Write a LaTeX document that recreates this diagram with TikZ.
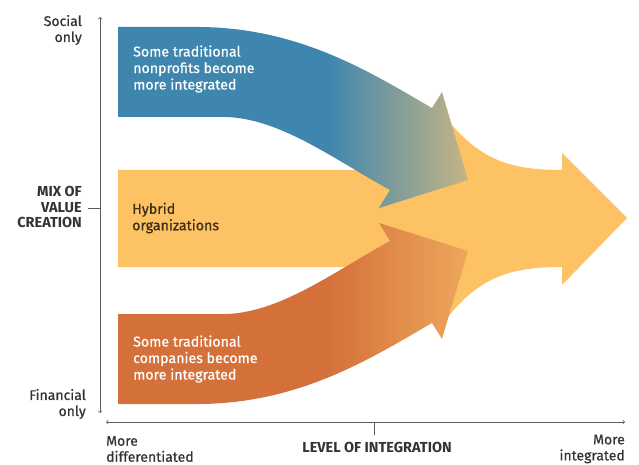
\documentclass[tikz,border=0pt]{standalone}
\usepackage{fontspec}
\setmainfont{Fira Sans}
\newfontfamily\medfont{Fira Sans}[FakeBold=0.6]
\definecolor{blueArrow}{HTML}{3F86AE}
\definecolor{blueTip}{HTML}{CDB782}
\definecolor{orangeArrow}{HTML}{D4713B}
\definecolor{orangeTip}{HTML}{EFAA5E}
\definecolor{hybridYellow}{HTML}{FCC264}
\definecolor{axisGray}{HTML}{5C5C5C}
\definecolor{labelGray}{HTML}{333333}
\definecolor{hybridText}{HTML}{3A2C16}
\pgfdeclarehorizontalshading{blueshade}{100bp}{color(0bp)=(blueArrow); color(55bp)=(blueArrow); color(76bp)=(blueTip); color(100bp)=(blueTip)}
\pgfdeclarehorizontalshading{orangeshade}{100bp}{color(0bp)=(orangeArrow); color(55bp)=(orangeArrow); color(76bp)=(orangeTip); color(100bp)=(orangeTip)}
\tikzset{
  axisline/.style={draw=axisGray, line width=0.7pt},
  boxtext/.style={anchor=west, align=left, inner sep=0pt, font=\medfont\fontsize{14.2}{16.5}\selectfont},
  sidelabel/.style={labelGray, align=right, inner sep=0pt, font=\medfont\fontsize{14}{16}\selectfont},
  axistitle/.style={labelGray, inner sep=0pt, font=\bfseries\fontsize{14.5}{15.5}\selectfont},
}
\begin{document}
\begin{tikzpicture}[x=1pt,y=-1pt]
  \useasboundingbox (0,0) rectangle (639,465);
  % hybrid arrow
  \fill[hybridYellow] (118,170) -- (420,170) -- (447,119)
    .. controls (480,160) and (510,170) .. (562,170) -- (562,153) -- (627,218)
    -- (562,285) -- (562,267) .. controls (510,267) and (480,277) .. (447,318)
    -- (420,267) -- (118,267) -- cycle;
  % nonprofits arrow
  \shade[shading=blueshade] (118,27) -- (200,27) .. controls (300,28) and (370,72) .. (432,108)
    -- (442,92) -- (468,180) -- (379,208) -- (390,190)
    .. controls (335,160) and (280,118) .. (225,117) -- (118,117) -- cycle;
  % companies arrow
  \shade[shading=orangeshade] (118,404) -- (200,404) .. controls (300,403) and (370,359) .. (432,323)
    -- (442,339) -- (468,251) -- (379,223) -- (390,241)
    .. controls (335,271) and (280,313) .. (225,314) -- (118,314) -- cycle;
  \node[boxtext, white] (nonprofits) at (133,69) {Some traditional\\nonprofits become\\more integrated};
  \node[boxtext, hybridText] (hybrid) at (132,218) {Hybrid\\organizations};
  \node[boxtext, white] (companies) at (133,359) {Some traditional\\companies become\\more integrated};
  % axes
  \coordinate (ytop) at (100,17);
  \coordinate (ybot) at (100,413);
  \coordinate (xleft) at (106,422);
  \coordinate (xright) at (625,422);
  \coordinate (ytick) at (88,208);
  \coordinate (xtick) at (374,435);
  \draw[axisline, <->] (ytop) -- (ybot);
  \draw[axisline, <->] (xleft) -- (xright);
  \draw[axisline] (ytick) -- (ytick -| ytop);
  \draw[axisline] (xtick) -- (xtick |- xleft);
  \node[sidelabel, anchor=east] (social) at (82,30) {Social\\only};
  \node[axistitle, anchor=east, align=right] (mix) at (82,207) {MIX OF\\VALUE\\CREATION};
  \node[sidelabel, anchor=east] (financial) at (86,404) {Financial\\only};
  \node[sidelabel, anchor=west, align=left] (differentiated) at (106,449) {More\\differentiated};
  \node[axistitle] (level) at (377,447) {LEVEL OF INTEGRATION};
  \node[sidelabel, anchor=east] (integrated) at (625,449) {More\\integrated};
\end{tikzpicture}
\end{document}
